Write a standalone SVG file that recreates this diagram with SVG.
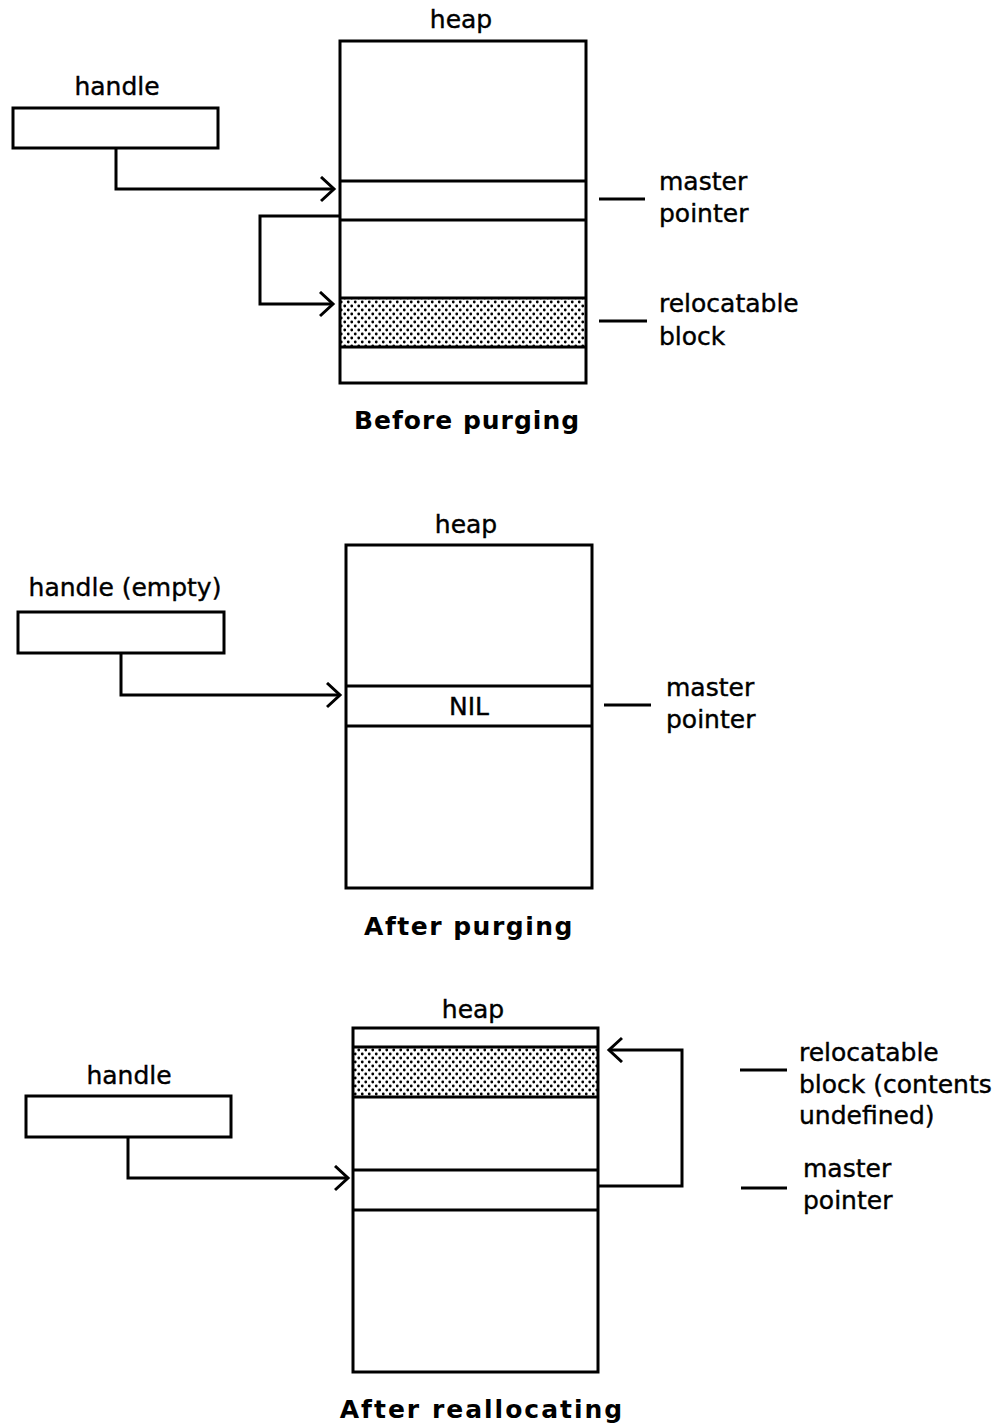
<svg xmlns="http://www.w3.org/2000/svg" width="1003" height="1426" viewBox="0 0 1003 1426">
<style>
.box{fill:none;stroke:#000;stroke-width:3}
.ln{fill:none;stroke:#000;stroke-width:3}
.conn{fill:none;stroke:#000;stroke-width:3}
.t{font-family:"DejaVu Sans","Liberation Sans",sans-serif;font-size:25px;fill:#000;stroke:#000;stroke-width:0.4}
.ttl{font-family:"DejaVu Sans","Liberation Sans",sans-serif;font-size:25px;font-weight:bold;fill:#000;text-anchor:middle;letter-spacing:1px}
.mid{text-anchor:middle}
.stip{fill:url(#dots);stroke:none}
</style>
<defs>
<pattern id="dots" width="7" height="8" patternUnits="userSpaceOnUse">
<rect width="7" height="8" fill="#fff"/>
<circle cx="1.75" cy="2" r="1.4" fill="#000"/>
<circle cx="5.25" cy="6" r="1.4" fill="#000"/>
</pattern>
<marker id="arr" markerUnits="userSpaceOnUse" markerWidth="20" markerHeight="30" refX="14" refY="13" orient="auto">
<path d="M1,1 L14,13 L1,25" fill="none" stroke="#000" stroke-width="3"/>
</marker>
</defs>

<!-- Diagram 1: Before purging -->
<g id="heap1">
<text class="t mid" x="461" y="28">heap</text>
<rect class="stip" x="340" y="298" width="246" height="49"/>
<rect class="box" x="340" y="41" width="246" height="342"/>
<line class="ln" x1="340" y1="181" x2="586" y2="181"/>
<line class="ln" x1="340" y1="220" x2="586" y2="220"/>
<line class="ln" x1="340" y1="298" x2="586" y2="298"/>
<line class="ln" x1="340" y1="347" x2="586" y2="347"/>
</g>
<g id="handle1">
<text class="t mid" x="117" y="95">handle</text>
<rect class="box" x="13" y="108" width="205" height="40"/>
</g>
<g id="labels1">
<line class="ln" x1="599" y1="199" x2="645" y2="199"/>
<text class="t" x="659" y="190">master</text>
<text class="t" x="659" y="222">pointer</text>
<line class="ln" x1="599" y1="321" x2="647" y2="321"/>
<text class="t" x="659" y="312">relocatable</text>
<text class="t" x="659" y="345">block</text>
</g>
<text class="ttl" x="467" y="429">Before purging</text>

<!-- Diagram 2: After purging -->
<g id="heap2">
<text class="t mid" x="466" y="533">heap</text>
<rect class="box" x="346" y="545" width="246" height="343"/>
<line class="ln" x1="346" y1="686" x2="592" y2="686"/>
<line class="ln" x1="346" y1="726" x2="592" y2="726"/>
<text class="t mid" x="469" y="715">NIL</text>
</g>
<g id="handle2">
<text class="t mid" x="125" y="596">handle (empty)</text>
<rect class="box" x="18" y="612" width="206" height="41"/>
</g>
<g id="labels2">
<line class="ln" x1="604" y1="705" x2="651" y2="705"/>
<text class="t" x="666" y="696">master</text>
<text class="t" x="666" y="728">pointer</text>
</g>
<text class="ttl" x="469" y="935" style="letter-spacing:1.5px">After purging</text>

<!-- Diagram 3: After reallocating -->
<g id="heap3">
<text class="t mid" x="473" y="1018">heap</text>
<rect class="stip" x="353" y="1047" width="245" height="50"/>
<rect class="box" x="353" y="1028" width="245" height="344"/>
<line class="ln" x1="353" y1="1047" x2="598" y2="1047"/>
<line class="ln" x1="353" y1="1097" x2="598" y2="1097"/>
<line class="ln" x1="353" y1="1170" x2="598" y2="1170"/>
<line class="ln" x1="353" y1="1210" x2="598" y2="1210"/>
</g>
<g id="handle3">
<text class="t mid" x="129" y="1084">handle</text>
<rect class="box" x="26" y="1096" width="205" height="41"/>
</g>
<g id="labels3">
<line class="ln" x1="740" y1="1070" x2="787" y2="1070"/>
<text class="t" x="799" y="1061">relocatable</text>
<text class="t" x="799" y="1093">block (contents</text>
<text class="t" x="799" y="1124">undefined)</text>
<line class="ln" x1="741" y1="1188" x2="787" y2="1188"/>
<text class="t" x="803" y="1177">master</text>
<text class="t" x="803" y="1209">pointer</text>
</g>
<text class="ttl" x="482" y="1418" style="letter-spacing:2px">After reallocating</text>

<g id="connectors">
<polyline class="conn" points="116,148 116,189 334,189" marker-end="url(#arr)"/>
<polyline class="conn" points="340,216 260,216 260,304 333,304" marker-end="url(#arr)"/>
<polyline class="conn" points="121,653 121,695 340,695" marker-end="url(#arr)"/>
<polyline class="conn" points="128,1137 128,1178 348,1178" marker-end="url(#arr)"/>
<polyline class="conn" points="598,1186 682,1186 682,1050 609,1050" marker-end="url(#arr)"/>
</g>
</svg>
